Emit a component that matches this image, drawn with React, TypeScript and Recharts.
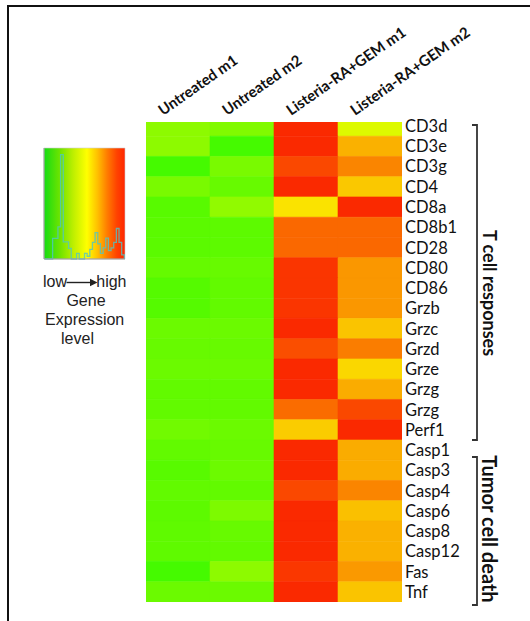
import React from 'react';
import { ScatterChart, Scatter, XAxis, YAxis, ReferenceArea, LineChart, Line } from 'recharts';

const genes = ['CD3d', 'CD3e', 'CD3g', 'CD4', 'CD8a', 'CD8b1', 'CD28', 'CD80', 'CD86', 'Grzb', 'Grzc', 'Grzd', 'Grze', 'Grzg', 'Grzg', 'Perf1', 'Casp1', 'Casp3', 'Casp4', 'Casp6', 'Casp8', 'Casp12', 'Fas', 'Tnf'];
const samples = ['Untreated m1', 'Untreated m2', 'Listeria-RA+GEM m1', 'Listeria-RA+GEM m2'];

// relative expression level (0 = low/green, 100 = high/red)
const untreatedM1 = [28.2, 28.2, 13.8, 24.2, 17.7, 18.2, 18.2, 20.2, 16.9, 16.9, 21.4, 20.6, 21.4, 19.7, 19.7, 22.6, 19.7, 17.7, 19.7, 18.6, 18.9, 18.9, 13.8, 21.4];
const untreatedM2 = [25.8, 13.8, 24.2, 20.6, 29.0, 18.6, 18.6, 20.6, 19.7, 19.7, 21.4, 20.6, 21.4, 19.7, 19.7, 21.4, 20.6, 21.7, 19.7, 25.0, 20.6, 19.7, 28.2, 21.4];
const listeriaM1 = [91.8, 91.8, 85.5, 91.8, 54.5, 79.2, 79.2, 89.4, 89.4, 89.4, 91.8, 84.3, 91.8, 91.8, 78.4, 59.2, 91.8, 91.8, 85.5, 91.8, 91.8, 91.8, 89.0, 91.8];
const listeriaM2 = [44.2, 64.7, 73.3, 60.0, 91.8, 79.2, 79.2, 69.8, 69.8, 69.8, 60.8, 74.9, 56.9, 65.5, 85.5, 91.8, 65.5, 65.5, 73.3, 61.6, 64.7, 64.7, 69.4, 60.8];
const columns = [untreatedM1, untreatedM2, listeriaM1, listeriaM2];

// colour key histogram
const histEdges = [-3.0, -2.8, -2.6, -2.4, -2.2, -2.0, -1.8, -1.6, -1.4, -1.2, -1.0, -0.8, -0.6, -0.4, -0.2, 0, 0.2, 0.4, 0.6, 0.8, 1.0, 1.2, 1.4, 1.6, 1.8, 2.0, 2.2, 2.4, 2.6, 2.8, 3.0];
const histCounts = [0, 0, 0, 0.74, 0.74, 1.16, 3.76, 0.62, 0.62, 0.38, 0, 0, 0.2, 0, 0, 0.2, 0.1, 0.35, 0.6, 0.95, 0.55, 0.2, 0.4, 0.75, 0.3, 0.4, 0.6, 1.1, 0.6, 0.15, 0];
const keyTicksX = [-2, -1, 0, 1, 2];
const keyTicksY = [0, 1, 2, 3, 4];

const levelColor = (v: number) => `hsl(${(120 * (1 - v / 100)).toFixed(1)}, 100%, 49%)`;

const cells = genes.flatMap((g, r) =>
  columns.map((vals, c) => ({ x: c + 0.5, y: r + 0.5, row: r, col: c, gene: g, level: vals[r] }))
);
const histData = histEdges.map((e, i) => ({ x: e, count: histCounts[i] }));

const SampleTick = (props: any) => {
  const { x, y, payload } = props;
  const label = samples[Math.floor(payload.value)];
  const tx = x - 15;
  const ty = y - 6;
  return (
    <text x={tx} y={ty} transform={`rotate(-35, ${tx}, ${ty})`} fontFamily="Lato" fontWeight={700} fontSize={15} fill="#111" textAnchor="start">
      {label}
    </text>
  );
};

const GeneTick = (props: any) => {
  const { x, y, payload } = props;
  const label = genes[Math.floor(payload.value)];
  return (
    <text x={x} y={y} dy="0.36em" fontFamily="Lato" fontSize={16.5} fill="#111" textAnchor="start">
      {label}
    </text>
  );
};

const EmptyShape = () => <g />;

export default function App() {
  return (
    <div style={{ position: 'absolute', left: 0, top: 0, width: 530, height: 621, background: '#fff', overflow: 'hidden' }}>
      <div style={{ position: 'absolute', left: 7, top: 5, width: 530, height: 630, borderTop: '2px solid #111', borderLeft: '2px solid #111' }} />
      <div style={{ position: 'absolute', left: 0, top: 0 }}>
        <ScatterChart width={530} height={621} margin={{ top: 22, right: 68, bottom: 19, left: 146 }}>
          <XAxis
            xAxisId="s"
            type="number"
            dataKey="x"
            orientation="top"
            domain={[0, 4]}
            ticks={[0.5, 1.5, 2.5, 3.5]}
            interval={0}
            height={100}
            axisLine={false}
            tickLine={false}
            tickSize={0}
            tickMargin={0}
            tick={<SampleTick />}
          />
          <YAxis
            yAxisId="g"
            type="number"
            dataKey="y"
            orientation="right"
            domain={[0.3, 24]}
            allowDataOverflow
            reversed
            ticks={genes.map((_, i) => i + 0.5)}
            interval={0}
            width={60}
            axisLine={false}
            tickLine={false}
            tickSize={0}
            tickMargin={3}
            tick={<GeneTick />}
          />
          {cells.map((c, i) => (
            <ReferenceArea
              key={i}
              xAxisId="s"
              yAxisId="g"
              x1={c.col}
              x2={c.col + 1}
              y1={c.row}
              y2={c.row + 1}
              fill={levelColor(c.level)}
              fillOpacity={1}
              stroke={levelColor(c.level)}
              strokeWidth={0.6}
              ifOverflow="hidden"
            />
          ))}
          <Scatter xAxisId="s" yAxisId="g" data={cells} shape={<EmptyShape />} isAnimationActive={false} />
        </ScatterChart>
      </div>
      <div style={{ position: 'absolute', left: 30, top: 140 }}>
        <LineChart width={110} height={130} data={histData} margin={{ top: 8, right: 15, bottom: 10, left: 13 }}>
          <defs>
            <linearGradient id="exprGrad" x1="0" y1="0" x2="1" y2="0">
              <stop offset="0" stopColor="#14dc14" />
              <stop offset="0.2" stopColor="#70e400" />
              <stop offset="0.36" stopColor="#bdef00" />
              <stop offset="0.53" stopColor="#ffff00" />
              <stop offset="0.66" stopColor="#ffc000" />
              <stop offset="0.78" stopColor="#ff7c00" />
              <stop offset="0.9" stopColor="#ff4200" />
              <stop offset="1" stopColor="#ff2600" />
            </linearGradient>
          </defs>
          <XAxis type="number" dataKey="x" domain={[-3.05, 3.05]} ticks={keyTicksX} height={1} tick={false} tickSize={4} stroke="#999" />
          <YAxis type="number" domain={[0, 4]} ticks={keyTicksY} width={1} tick={false} tickSize={4} stroke="#999" />
          <ReferenceArea x1={-3.05} x2={3.05} y1={0} y2={4} fill="url(#exprGrad)" fillOpacity={1} stroke="#cfcfcf" strokeWidth={0.6} />
          <Line type="stepAfter" dataKey="count" stroke="#4fc6c4" strokeOpacity={0.8} strokeWidth={1.3} dot={false} isAnimationActive={false} />
        </LineChart>
      </div>
      <svg width={530} height={621} style={{ position: 'absolute', left: 0, top: 0, pointerEvents: 'none' }}>
        <g fontFamily="'Liberation Sans', Arial, sans-serif" fontSize={16} fill="#222">
          <text x={43} y={287} textAnchor="start">low</text>
          <text x={126.5} y={287} textAnchor="end">high</text>
          <line x1={66.5} y1={282.5} x2={91} y2={282.5} stroke="#222" strokeWidth={1.4} />
          <polygon points="90,278.8 97.5,282.5 90,286.2" fill="#222" />
          <text x={86} y={306} textAnchor="middle">Gene</text>
          <text x={84.7} y={325} textAnchor="middle">Expression</text>
          <text x={77.5} y={344} textAnchor="middle">level</text>
        </g>
        <path d="M472,125 H477 V440 H472" stroke="#333" strokeWidth={1.8} fill="none" />
        <path d="M472,457 H477 V605 H472" stroke="#333" strokeWidth={1.8} fill="none" />
        <text x={490} y={293} transform="rotate(90, 490, 293)" textAnchor="middle" dominantBaseline="central" fontFamily="Lato" fontWeight={700} fontSize={18} fill="#111">
          T cell responses
        </text>
        <text x={490} y={529} transform="rotate(90, 490, 529)" textAnchor="middle" dominantBaseline="central" fontFamily="Lato" fontWeight={700} fontSize={20} fill="#111">
          Tumor cell death
        </text>
      </svg>
    </div>
  );
}
